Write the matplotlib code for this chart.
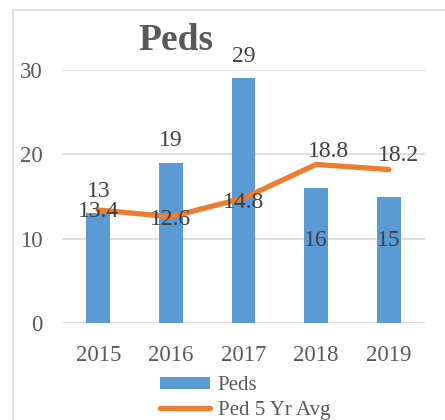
import matplotlib
matplotlib.use("Agg")
import matplotlib.pyplot as plt
from matplotlib.patches import Rectangle
from matplotlib.lines import Line2D
from matplotlib.patches import Patch

years = ["2015", "2016", "2017", "2018", "2019"]
peds = [13, 19, 29, 16, 15]
avg5 = [13.4, 12.6, 14.8, 18.8, 18.2]
yticks = [0, 10, 20, 30]

plt.rcParams['font.family'] = ['Liberation Serif', 'DejaVu Serif']

BLUE = "#5B9BD5"
ORANGE = "#ED7D31"
TXT = "#595959"
LBL = "#404040"

fig = plt.figure(figsize=(4.45, 4.2), dpi=100)
W, H = 445, 420
ax = fig.add_axes([62 / W, 1 - 323 / H, 363 / W, 253 / H])

x = list(range(len(years)))
ax.bar(x, peds, width=0.33, color=BLUE, zorder=2)
ax.plot(x, avg5, color=ORANGE, lw=3.8, solid_capstyle='round', zorder=3)

ax.set_xlim(-0.5, 4.5)
ax.set_ylim(0, 30)
ax.set_yticks(yticks)
ax.set_xticks(x)
ax.set_xticklabels(years)
for s in ax.spines.values():
    s.set_visible(False)
ax.grid(axis='y', color='#d9d9d9', lw=1.2, zorder=0)
ax.tick_params(axis='both', length=0, labelsize=16.5, colors=TXT)
ax.tick_params(axis='y', pad=14)
ax.tick_params(axis='x', pad=16)

# bar labels
for i, v in enumerate(peds):
    if i < 3:
        ax.annotate(str(v), (i, v), xytext=(0, 16), textcoords='offset points',
                    ha='center', va='center', fontsize=17, color=LBL, zorder=5,
                    annotation_clip=False)
    else:
        ax.annotate(str(v), (i, 9.8), ha='center', va='center', fontsize=17,
                    color=LBL, zorder=5)

# line labels
offs = [(0, -1), (0, -2), (0, -3), (9, 9), (7, 10)]
for i, v in enumerate(avg5):
    ax.annotate(f"{v}", (i, v), xytext=offs[i], textcoords='offset points',
                ha='center', va='center', fontsize=17, color=LBL, zorder=5)

fig.text(176 / W, 1 - 40 / H, "Peds", ha='center', va='center', fontsize=27,
         fontweight='bold', color=TXT)

handles = [Patch(facecolor=BLUE, edgecolor='none'),
           Line2D([0], [0], color=ORANGE, lw=3.8, solid_capstyle='round')]
leg = fig.legend(handles, ["Peds", "Ped 5 Yr Avg"], loc='upper left',
                 bbox_to_anchor=(150 / W, 1 - 366 / H), frameon=False,
                 fontsize=15, handlelength=2.4, handleheight=0.45,
                 handletextpad=0.35, labelspacing=0.25, borderpad=0)
for t in leg.get_texts():
    t.set_color(TXT)

fig.patches.append(Rectangle((13 / W, -0.2), 1.2, 1 - 10 / H + 0.2,
                             transform=fig.transFigure, fill=False,
                             edgecolor='#d9d9d9', lw=1.2, zorder=0))

fig.savefig("out.png", dpi=100)
